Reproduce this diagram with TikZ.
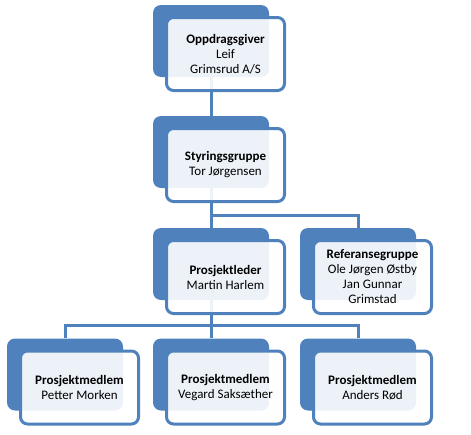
\documentclass[tikz,border=0pt]{standalone}
\usepackage{fontspec}
\setmainfont{Carlito}
\usetikzlibrary{calc,positioning}
\definecolor{orgblue}{RGB}{79,129,189}
\tikzstyle{back}=[rectangle, fill=orgblue, draw=none, rounded corners=8pt, minimum width=116pt, minimum height=72pt, inner sep=0pt]
\tikzstyle{front}=[rectangle, draw=orgblue, line width=3pt, fill=white, fill opacity=0.9, text opacity=1, rounded corners=7pt, minimum width=118pt, minimum height=73pt, align=center, inner sep=1pt, font=\fontsize{13}{15}\selectfont]
\tikzstyle{link}=[draw=orgblue, line width=3pt]

\begin{document}
\begin{tikzpicture}[x=1pt, y=-1pt]
\useasboundingbox (0,0) rectangle (471,434);
% blue back plates
\node (giverb) [back] at (211,41) {};
\node (styringb) [yshift=-111] at (giverb) [back] {};
\node (lederb) [yshift=-112] at (styringb) [back] {};
\node (refb) [xshift=147] at (lederb) [back] {};
\node (medb2) [yshift=-110.5] at (lederb) [back] {};
\node (medb1) [xshift=-146] at (medb2) [back] {};
\node (medb3) [xshift=147] at (medb2) [back] {};

% connectors
\coordinate (split1) at (211,215);
\coordinate (split2) at (211,325);
\draw [link] (giverb.south) -- (styringb.north);
\draw [link] (styringb.south) -- (lederb.north);
\draw [link] (split1) -| (refb.north);
\draw [link] (lederb.south) -- (medb2.north);
\draw [link] (medb1.north) |- (split2) -| (medb3.north);

% white front boxes
\node (giver) [xshift=14.5, yshift=-13] at (giverb) [front] {\textbf{Oppdragsgiver}\\Leif\\Grimsrud A/S};
\node (styring) [xshift=14.5, yshift=-13] at (styringb) [front] {\textbf{Styringsgruppe}\\Tor Jørgensen};
\node (leder) [xshift=14.5, yshift=-13] at (lederb) [front] {\textbf{Prosjektleder}\\Martin Harlem};
\node (ref) [xshift=14.5, yshift=-13] at (refb) [front] {\textbf{Referansegruppe}\\Ole Jørgen Østby\\Jan Gunnar\\Grimstad};
\node (med1) [xshift=14.5, yshift=-13] at (medb1) [front] {\textbf{Prosjektmedlem}\\Petter Morken};
\node (med2) [xshift=14.5, yshift=-13] at (medb2) [front] {\textbf{Prosjektmedlem}\\Vegard Saksæther};
\node (med3) [xshift=14.5, yshift=-13] at (medb3) [front] {\textbf{Prosjektmedlem}\\Anders Rød};
\end{tikzpicture}
\end{document}
